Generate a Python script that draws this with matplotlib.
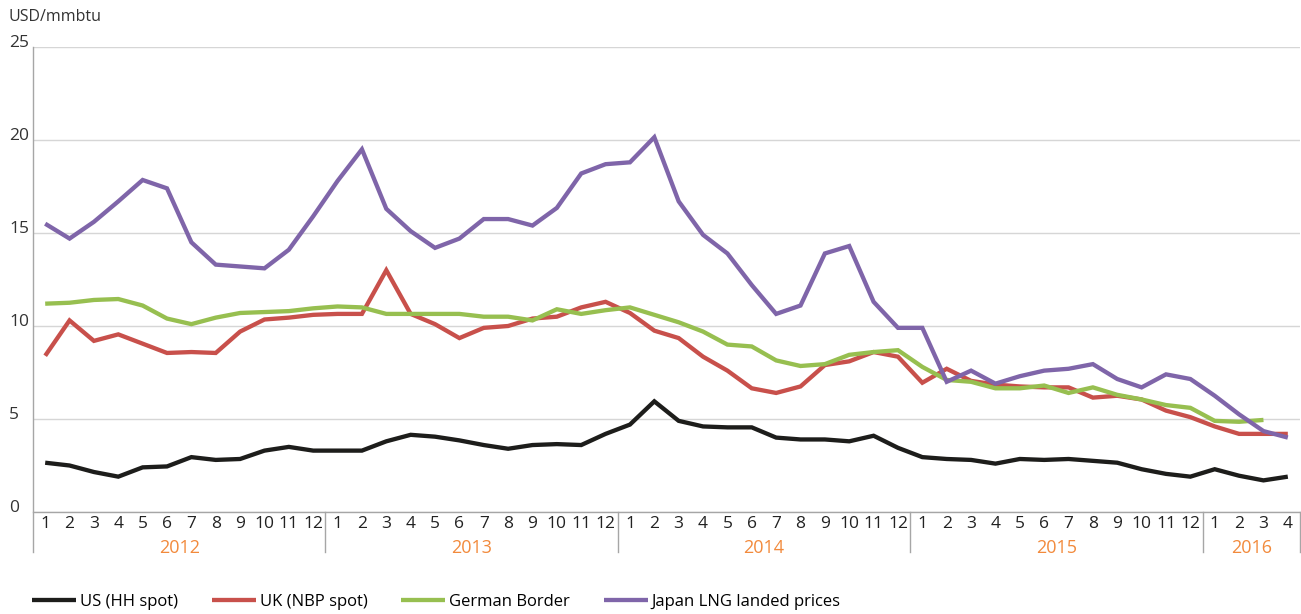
import matplotlib
matplotlib.use("Agg")
import matplotlib.pyplot as plt
import matplotlib.lines as lines

plt.rcParams['font.family'] = ['Open Sans', 'DejaVu Sans']

years = ["2012", "2013", "2014", "2015", "2016"]
months_per_year = [12, 12, 12, 12, 4]

us_hh = [2.65, 2.5, 2.15, 1.9, 2.4, 2.45, 2.95, 2.8, 2.85, 3.3, 3.5, 3.3,
         3.3, 3.3, 3.8, 4.15, 4.05, 3.85, 3.6, 3.4, 3.6, 3.65, 3.6, 4.2,
         4.7, 5.95, 4.9, 4.6, 4.55, 4.55, 4.0, 3.9, 3.9, 3.8, 4.1, 3.45,
         2.95, 2.85, 2.8, 2.6, 2.85, 2.8, 2.85, 2.75, 2.65, 2.3, 2.05, 1.9,
         2.3, 1.95, 1.7, 1.9]
uk_nbp = [8.4, 10.3, 9.2, 9.55, 9.05, 8.55, 8.6, 8.55, 9.7, 10.35, 10.45, 10.6,
          10.65, 10.65, 13.0, 10.65, 10.1, 9.35, 9.9, 10.0, 10.4, 10.5, 11.0, 11.3,
          10.7, 9.75, 9.35, 8.35, 7.6, 6.65, 6.4, 6.75, 7.9, 8.1, 8.6, 8.35,
          6.95, 7.7, 7.05, 6.85, 6.75, 6.7, 6.7, 6.15, 6.25, 6.05, 5.45, 5.1,
          4.6, 4.2, 4.2, 4.2]
german = [11.2, 11.25, 11.4, 11.45, 11.1, 10.4, 10.1, 10.45, 10.7, 10.75, 10.8, 10.95,
          11.05, 11.0, 10.65, 10.65, 10.65, 10.65, 10.5, 10.5, 10.3, 10.9, 10.65, 10.85,
          11.0, 10.6, 10.2, 9.7, 9.0, 8.9, 8.15, 7.85, 7.95, 8.45, 8.6, 8.7,
          7.8, 7.1, 7.0, 6.65, 6.65, 6.8, 6.4, 6.7, 6.3, 6.05, 5.75, 5.6,
          4.9, 4.85, 4.95]
japan = [15.5, 14.7, 15.6, 16.7, 17.85, 17.4, 14.5, 13.3, 13.2, 13.1, 14.1, 15.9,
         17.8, 19.5, 16.3, 15.1, 14.2, 14.7, 15.75, 15.75, 15.4, 16.35, 18.2, 18.7,
         18.8, 20.15, 16.7, 14.9, 13.9, 12.2, 10.65, 11.1, 13.9, 14.3, 11.3, 9.9,
         9.9, 7.0, 7.6, 6.9, 7.3, 7.6, 7.7, 7.95, 7.15, 6.7, 7.4, 7.15,
         6.25, 5.25, 4.35, 4.0]

series = [
    ("US (HH spot)", us_hh, "#1d1d1b"),
    ("UK (NBP spot)", uk_nbp, "#c8504b"),
    ("German Border", german, "#97bf50"),
    ("Japan LNG landed prices", japan, "#7f65a9"),
]

month_labels = []
for n in months_per_year:
    month_labels += [str(m) for m in range(1, n + 1)]
n_months = len(month_labels)

fig = plt.figure(figsize=(13.01, 6.14), dpi=100)
ax = fig.add_axes([33 / 1301, (614 - 512) / 614, 1267 / 1301, 465 / 614])

handles = []
for name, vals, col in series:
    h, = ax.plot(range(len(vals)), vals, color=col, lw=3.1, label=name,
                 solid_joinstyle='miter', solid_capstyle='butt')
    handles.append(h)

ax.set_xlim(-0.5, n_months - 0.5)
ax.set_ylim(0, 25)
ax.set_yticks([0, 5, 10, 15, 20, 25])
ax.yaxis.grid(True, color="#d6d6d6", lw=1)
ax.set_axisbelow(True)

for s in ["top", "right", "left"]:
    ax.spines[s].set_visible(False)
ax.spines["bottom"].set_color("#a6a6a6")
ax.spines["bottom"].set_linewidth(1)

ax.tick_params(axis='y', length=0, pad=17.3, labelsize=12.5, labelcolor="#333333")
for lab in ax.get_yticklabels():
    lab.set_ha('left')
    lab.set_va('baseline')

ax.set_xticks(range(n_months))
ax.set_xticklabels(month_labels)
ax.tick_params(axis='x', length=0, pad=3, labelsize=12.5, labelcolor="#222222")

# left axis line extending down past the year row, and year separators
trans = ax.get_xaxis_transform()
ax.add_line(lines.Line2D([-0.5, -0.5], [-0.086, 1], transform=trans,
                         color="#a6a6a6", lw=1, clip_on=False))
start = 0
for yr, n in zip(years, months_per_year):
    end = start + n
    ax.add_line(lines.Line2D([end - 0.5, end - 0.5], [-0.086, 0], transform=trans,
                             color="#a6a6a6", lw=1, clip_on=False))
    ax.text((start + end - 1) / 2, -0.077, yr, transform=trans, ha='center',
            va='center', fontsize=13, color="#f28a3c")
    start = end

fig.text(9 / 1301, 1 - 17 / 614, "USD/mmbtu", ha='left', va='center',
         fontsize=11.5, color="#333333")

fig.legend(handles=handles, loc='center left', bbox_to_anchor=(32 / 1301, 12 / 614),
           ncol=4, frameon=False, fontsize=12, handlelength=2.65,
           handletextpad=0.25, columnspacing=2.0, borderpad=0, borderaxespad=0)

fig.savefig("out.png", dpi=100)
